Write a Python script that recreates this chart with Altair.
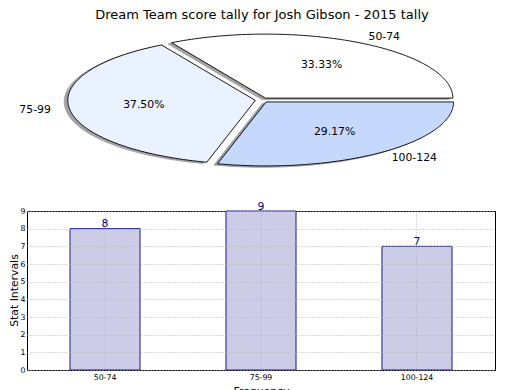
import altair as alt
import numpy as np
import pandas as pd

title_text = "Dream Team score tally for Josh Gibson - 2015 tally"
y_title = "Stat Intervals"
x_title = "Frequency"
categories = ["50-74", "75-99", "100-124"]
counts = [8, 9, 7]
pie_colors = ["#ffffff", "#ebf2ff", "#c6d9fd"]

# pie geometry (in reference pixel space)
CX, CY = 260.0, 99.1
RX, RY = 187.5, 64.0
EXPLODE = 0.036
SHADOW_DX, SHADOW_DY = -3.6, 1.3
FONT = "DejaVu Sans"
FS = 10.83


def shadow_color(hex_color):
    h = hex_color.lstrip("#")
    r, g, b = (int(h[i:i + 2], 16) for i in (0, 2, 4))
    return "#%02x%02x%02x" % (int(r * 0.3), int(g * 0.3), int(b * 0.3))


total = float(sum(counts))
poly_rows = []
label_rows = []
start = 0.0
for cat, val, col in zip(categories, counts, pie_colors):
    frac = val / total
    t0, t1 = start, start + frac * 360.0
    mid = np.radians((t0 + t1) / 2.0)
    ox = CX + EXPLODE * RX * np.cos(mid)
    oy = CY - EXPLODE * RY * np.sin(mid)
    ts = np.radians(np.linspace(t0, t1, 90))
    xs = np.concatenate([[ox], ox + RX * np.cos(ts)])
    ys = np.concatenate([[oy], oy - RY * np.sin(ts)])
    for i, (x, y) in enumerate(zip(xs, ys)):
        poly_rows.append(dict(slice=cat, i=i, x=x, y=y, fill=col,
                              sx=x + SHADOW_DX, sy=y + SHADOW_DY,
                              sfill=shadow_color(col)))
    lx = ox + 1.1 * RX * np.cos(mid)
    ly = oy - 1.1 * RY * np.sin(mid)
    label_rows.append(dict(x=lx, y=ly, text=cat,
                           align="left" if np.cos(mid) > 0 else "right"))
    px = ox + 0.6 * RX * np.cos(mid)
    py = oy - 0.6 * RY * np.sin(mid)
    label_rows.append(dict(x=px, y=py, text="%.2f%%" % (frac * 100), align="center"))
    start = t1

pie_df = pd.DataFrame(poly_rows)
lab_df = pd.DataFrame(label_rows)
title_df = pd.DataFrame([dict(x=260.0, y=14.0, text=title_text)])

xs_pie = alt.Scale(domain=[25, 493], nice=False, zero=False)
ys_pie = alt.Scale(domain=[8, 188], nice=False, zero=False, reverse=True)

shadow = alt.Chart(pie_df).mark_line(interpolate="linear-closed", opacity=0.5, strokeWidth=0.9).encode(
    x=alt.X("sx:Q", scale=xs_pie, axis=None),
    y=alt.Y("sy:Q", scale=ys_pie, axis=None),
    fill=alt.Fill("sfill:N", scale=None, legend=None),
    stroke=alt.Stroke("sfill:N", scale=None, legend=None),
    detail="slice:N",
    order="i:Q",
)

slices = alt.Chart(pie_df).mark_line(interpolate="linear-closed", stroke="black", strokeWidth=0.9).encode(
    x=alt.X("x:Q", scale=xs_pie, axis=None),
    y=alt.Y("y:Q", scale=ys_pie, axis=None),
    fill=alt.Fill("fill:N", scale=None, legend=None),
    detail="slice:N",
    order="i:Q",
)

text_layers = []
for al in ["left", "right", "center"]:
    text_layers.append(
        alt.Chart(lab_df).transform_filter(alt.datum.align == al)
        .mark_text(align=al, baseline="middle", fontSize=FS, color="black", font=FONT)
        .encode(x=alt.X("x:Q", scale=xs_pie, axis=None),
                y=alt.Y("y:Q", scale=ys_pie, axis=None),
                text="text:N")
    )

title_layer = alt.Chart(title_df).mark_text(align="center", baseline="middle", fontSize=13, color="black", font=FONT).encode(
    x=alt.X("x:Q", scale=xs_pie, axis=None),
    y=alt.Y("y:Q", scale=ys_pie, axis=None),
    text="text:N",
)

pie = alt.layer(shadow, slices, *text_layers, title_layer).properties(
    width=468, height=180, view=alt.ViewBackground(stroke="transparent")
)

bar_df = pd.DataFrame({"cat": categories, "count": counts})
grid_color = "#b4b4b4"
base = alt.Chart(bar_df).encode(
    x=alt.X("cat:N", sort=categories,
            scale=alt.Scale(paddingInner=0.551, paddingOuter=0.2756),
            axis=alt.Axis(title=x_title, labelAngle=0, labelFontSize=7.8, titleFontSize=FS,
                          titleFontWeight="normal", grid=True, bandPosition=0.5,
                          gridColor=grid_color, gridDash=[1, 2], gridWidth=1,
                          ticks=False, tickSize=0, domain=False, labelPadding=3,
                          titlePadding=4.5, zindex=1, labelColor="black", titleColor="black")),
    y=alt.Y("count:Q", scale=alt.Scale(domain=[0, 9], nice=False),
            axis=alt.Axis(title=None, values=list(range(10)), labelFontSize=7.8,
                          grid=True, gridColor=grid_color, gridDash=[1, 2], gridWidth=1,
                          ticks=False, tickSize=0, domain=False, labelPadding=2,
                          zindex=1, labelColor="black")),
)
bars = base.mark_bar(fill="#cccce6", stroke="#000080", strokeWidth=0.9)
vals = base.mark_text(baseline="alphabetic", dy=-1.5, fontSize=FS, color="#000080", font=FONT).encode(
    text="count:Q"
)
ytitle = alt.Chart(pd.DataFrame({"t": [y_title]})).mark_text(
    angle=270, align="center", baseline="middle", fontSize=FS, color="black", font=FONT
).encode(x=alt.value(-12), y=alt.value(79.5), text="t:N")

bar = alt.layer(bars, vals, ytitle).properties(
    width=468, height=159, view=alt.ViewBackground(stroke="black", strokeWidth=1)
)

chart = alt.vconcat(pie, bar, spacing=22, bounds="flush").properties(padding=0).configure(font=FONT)

chart.save("out.html", embed_options={"renderer": "svg", "actions": False})
